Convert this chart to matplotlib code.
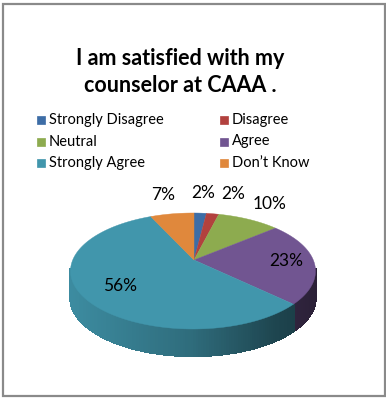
import numpy as np
import matplotlib
matplotlib.use("Agg")
import matplotlib.pyplot as plt
from matplotlib.patches import Polygon, Rectangle
from matplotlib.colors import to_rgb

# ── data ───────────────────────────────────────────────────────────────────────
TITLE      = "I am satisfied with my\ncounselor at CAAA ."
categories = ["Strongly Disagree", "Disagree", "Neutral",
              "Agree", "Strongly Agree", "Don\u2019t Know"]
values     = [2, 2, 10, 23, 56, 7]
labels     = ["2%", "2%", "10%", "23%", "56%", "7%"]
colors     = ["#3d6da6", "#b2413e", "#8dab4f", "#715591", "#4196ac", "#e0883c"]

# ── geometry of the tilted pie (pixel space) ──────────────────────────────────
APEX   = np.array([194.0, 260.0])   # where the slices meet
CENTER = np.array([193.0, 271.0])   # centre of the rim ellipse
RX, RY = 122.5, 58.0
DEPTH  = 27.0

plt.rcParams["font.family"] = ["Lato", "DejaVu Sans"]


def rim_point(theta):
    """Ray from the apex at pie angle theta (clockwise from 12 o'clock) -> rim."""
    theta = np.atleast_1d(theta)
    d = np.stack([RX * np.sin(theta), -RY * np.cos(theta)], axis=1)
    u = APEX - CENTER
    dn = d / [RX, RY]
    un = u / [RX, RY]
    a = (dn ** 2).sum(1)
    b = 2 * (un * dn).sum(1)
    c = (un ** 2).sum() - 1
    s = (-b + np.sqrt(b * b - 4 * a * c)) / (2 * a)
    return APEX + d * s[:, None]


def shade(color, x):
    f = np.interp(x, [70, 190, 275, 315], [0.93, 0.72, 0.46, 0.38])
    return tuple(np.array(to_rgb(color)) * f)


fig = plt.figure(figsize=(3.86, 3.99), dpi=100)
ax = fig.add_axes([0, 0, 1, 1])
ax.set_xlim(0, 386)
ax.set_ylim(399, 0)
ax.axis("off")

# frame
ax.add_patch(Rectangle((3, 4), 382, 392, fill=False,
                       edgecolor="#8a8a8a", linewidth=1.6))

total  = float(sum(values))
bounds = np.concatenate([[0], np.cumsum(values)]) / total * 2 * np.pi

# ── side wall (front half only), drawn in thin strips for the shading ─────────
for i, col in enumerate(colors):
    th = np.linspace(bounds[i], bounds[i + 1], 200)
    pts = rim_point(th)
    for j in range(len(pts) - 1):
        p0, p1 = pts[j], pts[j + 1]
        if p0[1] < CENTER[1] - 2 and p1[1] < CENTER[1] - 2:
            continue
        quad = [p0, p1, p1 + [0, DEPTH], p0 + [0, DEPTH]]
        c = shade(col, (p0[0] + p1[0]) / 2)
        ax.add_patch(Polygon(quad, closed=True, facecolor=c, edgecolor=c,
                             linewidth=1.0, antialiased=False, zorder=2))

# ── top faces ─────────────────────────────────────────────────────────────────
for i, col in enumerate(colors):
    th = np.linspace(bounds[i], bounds[i + 1], 200)
    pts = np.vstack([APEX, rim_point(th)])
    ax.add_patch(Polygon(pts, closed=True, facecolor=col,
                         edgecolor=col, linewidth=0.3, zorder=3))

# ── data labels (small slices outside, pushed apart if crowded) ──────────────
last_x = -1e9
for i, lab in enumerate(labels):
    mid = (bounds[i] + bounds[i + 1]) / 2
    inside = values[i] >= 20
    r = 0.75 if inside else 1.15
    x = APEX[0] + r * RX * np.sin(mid)
    y = APEX[1] - r * RY * np.cos(mid)
    if not inside and x > APEX[0]:
        x = max(x, last_x + 30)
        last_x = x
    ax.text(x, y, lab, ha="center", va="center", fontsize=12.5,
            color="black", zorder=5)

# ── title ─────────────────────────────────────────────────────────────────────
ax.text(180, 72, TITLE, ha="center", va="center", fontsize=15.5,
        fontweight="bold", linespacing=1.4, color="black")

# ── legend ────────────────────────────────────────────────────────────────────
for i, (cat, col) in enumerate(zip(categories, colors)):
    row, column = divmod(i, 2)
    x0 = 37 if column == 0 else 220
    y0 = 120 + row * 21.5
    ax.add_patch(Rectangle((x0, y0 - 4), 8, 8, facecolor=col,
                           edgecolor=col, linewidth=0.5))
    ax.text(x0 + 12, y0, cat, ha="left", va="center", fontsize=10.5,
            color="black")

fig.savefig("out.png", dpi=100)
